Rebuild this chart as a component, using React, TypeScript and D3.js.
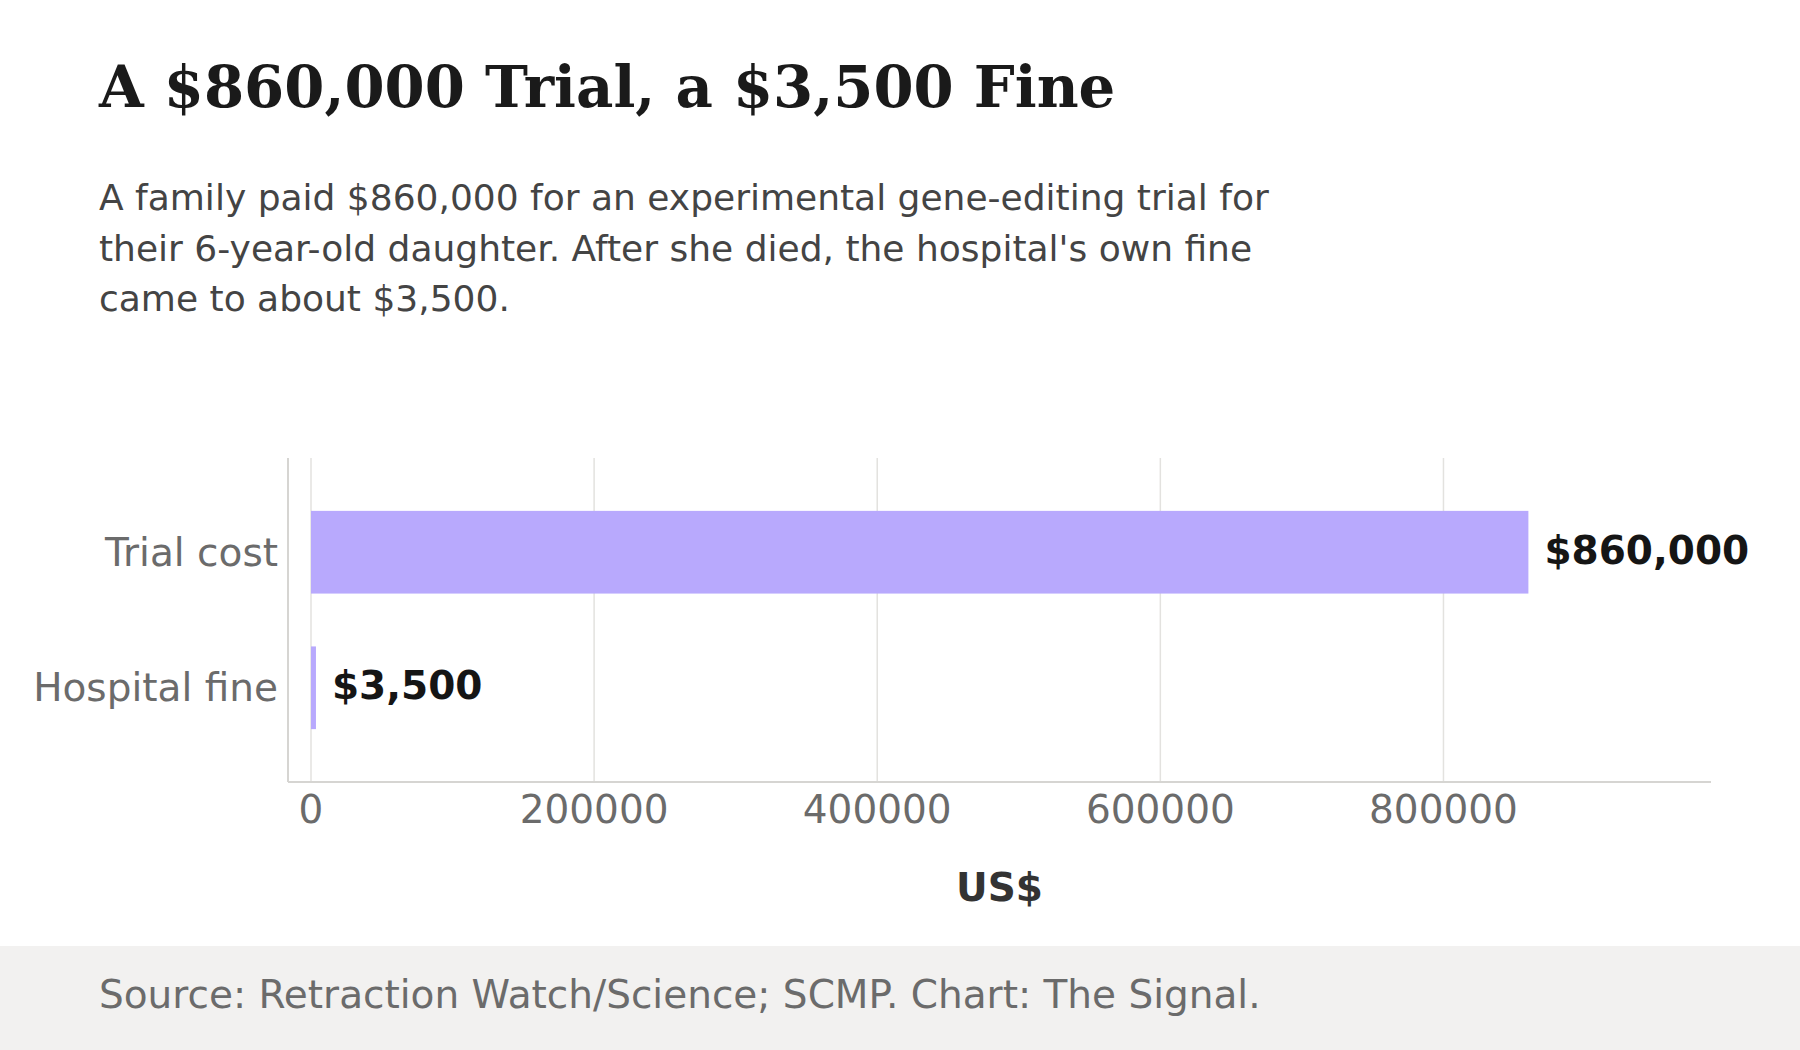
import React, { useEffect, useRef } from 'react'
import * as d3 from 'd3'

const categories = ['Trial cost', 'Hospital fine']
const values = [860000, 3500]
const valueLabels = ['$860,000', '$3,500']
const xTicks = [0, 200000, 400000, 600000, 800000]

const title = 'A $860,000 Trial, a $3,500 Fine'
const subtitleLines = [
  'A family paid $860,000 for an experimental gene-editing trial for',
  "their 6-year-old daughter. After she died, the hospital's own fine",
  'came to about $3,500.',
]
const source = 'Source: Retraction Watch/Science; SCMP. Chart: The Signal.'
const xTitle = 'US$'

const W = 1800
const H = 1050
const SANS = '"DejaVu Sans", Verdana, sans-serif'
const SERIF = '"DejaVu Serif", Georgia, serif'

export default function App() {
  const ref = useRef<SVGSVGElement>(null)

  useEffect(() => {
    document.body.style.margin = '0'
    const svg = d3.select(ref.current)
    svg.selectAll('*').remove()

    svg.append('rect').attr('width', W).attr('height', H).attr('fill', '#ffffff')

    // title + subtitle
    svg.append('text')
      .attr('x', 99).attr('y', 107)
      .style('font-family', SERIF).style('font-weight', 'bold')
      .style('font-size', '57.7px').attr('fill', '#1a1a1a')
      .text(title)

    svg.append('g').selectAll('text')
      .data(subtitleLines)
      .enter().append('text')
      .attr('x', 99)
      .attr('y', (d, i) => 210 + i * 50.5)
      .style('font-family', SANS).style('font-size', '36px')
      .attr('fill', '#444444')
      .text(d => d)

    // plot area
    const left = 288, right = 1711, top = 458, bottom = 782
    const x = d3.scaleLinear().domain([-16250, 989000]).range([left, right])
    const y = d3.scaleBand().domain(categories).range([top, bottom])
      .paddingInner(0.39).paddingOuter(0.39)

    const g = svg.append('g')

    g.selectAll('.grid')
      .data(xTicks)
      .enter().append('line')
      .attr('class', 'grid')
      .attr('x1', d => x(d)).attr('x2', d => x(d))
      .attr('y1', top).attr('y2', bottom)
      .attr('stroke', '#e3e2df').attr('stroke-width', 1.5)

    // axis lines
    g.append('line').attr('x1', left).attr('x2', left).attr('y1', top).attr('y2', bottom)
      .attr('stroke', '#d6d5d2').attr('stroke-width', 2)
    g.append('line').attr('x1', left).attr('x2', right).attr('y1', bottom).attr('y2', bottom)
      .attr('stroke', '#d6d5d2').attr('stroke-width', 2)

    g.selectAll('.bar')
      .data(values)
      .enter().append('rect')
      .attr('class', 'bar')
      .attr('x', x(0))
      .attr('y', (d, i) => y(categories[i]) as number)
      .attr('width', d => x(d) - x(0))
      .attr('height', y.bandwidth())
      .attr('fill', '#b8a9fd')

    g.selectAll('.vlabel')
      .data(values)
      .enter().append('text')
      .attr('class', 'vlabel')
      .attr('x', d => x(d) + 16)
      .attr('y', (d, i) => (y(categories[i]) as number) + y.bandwidth() / 2 - 2)
      .attr('dominant-baseline', 'central')
      .style('font-family', SANS).style('font-weight', 'bold').style('font-size', '39px')
      .attr('fill', '#151515')
      .text((d, i) => valueLabels[i])

    g.selectAll('.cat')
      .data(categories)
      .enter().append('text')
      .attr('class', 'cat')
      .attr('x', left - 10)
      .attr('y', d => (y(d) as number) + y.bandwidth() / 2)
      .attr('dominant-baseline', 'central')
      .attr('text-anchor', 'end')
      .style('font-family', SANS).style('font-size', '39px')
      .attr('fill', '#6b6b6b')
      .text(d => d)

    g.selectAll('.tick')
      .data(xTicks)
      .enter().append('text')
      .attr('class', 'tick')
      .attr('x', d => x(d))
      .attr('y', 823)
      .attr('text-anchor', 'middle')
      .style('font-family', SANS).style('font-size', '39px')
      .attr('fill', '#6b6b6b')
      .text(d => String(d))

    g.append('text')
      .attr('x', (left + right) / 2).attr('y', 901)
      .attr('text-anchor', 'middle')
      .style('font-family', SANS).style('font-weight', 'bold').style('font-size', '39px')
      .attr('fill', '#333333')
      .text(xTitle)

    // footer
    svg.append('rect').attr('x', 0).attr('y', 946).attr('width', W).attr('height', H - 946)
      .attr('fill', '#f2f1f0')
    svg.append('text')
      .attr('x', 99).attr('y', 1008)
      .style('font-family', SANS).style('font-size', '39px')
      .attr('fill', '#6b6b6b')
      .text(source)
  }, [])

  return (
    <div>
      <svg ref={ref} width={W} height={H} style={{ display: 'block' }}></svg>
    </div>
  )
}
